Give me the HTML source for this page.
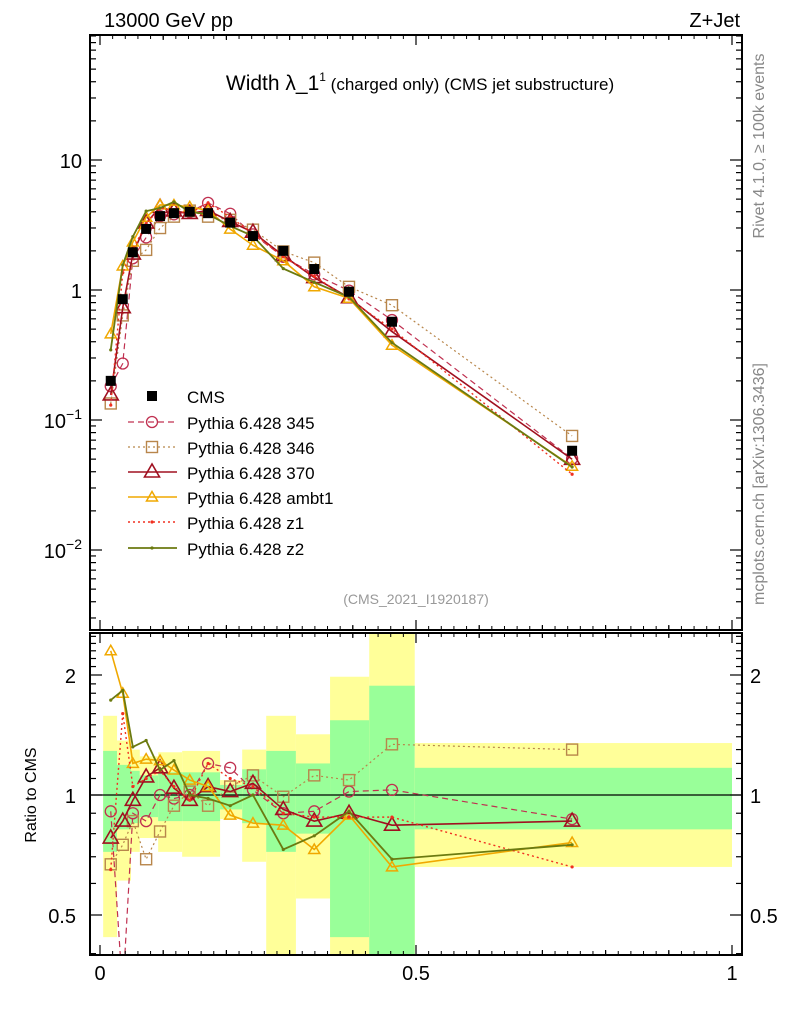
<!DOCTYPE html>
<html><head><meta charset="utf-8"><style>
body{margin:0;background:#fff}
svg{display:block;font-family:"Liberation Sans",sans-serif}
</style></head><body>
<svg id="c" width="786" height="1024" xmlns="http://www.w3.org/2000/svg"></svg>
<script>
// ---- data ----
const xCenters=[0.017,0.036,0.052,0.073,0.095,0.117,0.142,0.171,0.206,0.242,0.29,0.339,0.394,0.462,0.747];
const cmsValues=[0.2,0.85,1.95,2.95,3.7,3.9,4.0,3.9,3.3,2.6,2.0,1.45,0.97,0.57,0.058];
const ratio345=[0.91,0.32,0.9,0.86,1.0,0.98,1.0,1.2,1.17,1.03,0.9,0.91,1.02,1.03,0.87];
const ratio346=[0.67,0.75,0.86,0.69,0.81,0.94,1.02,0.94,1.05,1.12,0.99,1.12,1.09,1.34,1.3];
const ratio370=[0.78,0.86,0.97,1.11,1.17,1.04,0.97,1.05,1.02,1.07,0.92,0.86,0.9,0.84,0.86];
const ratioAmbt1=[2.3,1.8,1.2,1.23,1.22,1.155,1.09,1.05,0.89,0.85,0.84,0.73,0.89,0.66,0.76];
const ratioZ1=[0.65,1.6,1.05,1.1,1.15,1.05,0.97,1.2,1.1,1.05,0.9,0.88,0.88,0.88,0.66];
const ratioZ2=[1.73,1.83,1.32,1.37,1.155,1.22,1.0,0.98,0.94,1.0,0.73,0.79,0.91,0.69,0.75];
const bandEdges=[0.005,0.027,0.049,0.063,0.092,0.13,0.19,0.225,0.263,0.31,0.364,0.426,0.498,1.0];
const yellowHi=[1.58,1.37,1.3,1.25,1.28,1.29,1.09,1.3,1.58,1.42,1.98,3.0,1.35];
const yellowLo=[0.44,0.61,0.72,0.78,0.72,0.70,0.87,0.68,0.39,0.55,0.3,0.3,0.66];
const greenHi=[1.29,1.19,1.15,1.12,1.14,1.14,1.06,1.16,1.29,1.2,1.54,1.88,1.17];
const greenLo=[0.72,0.82,0.85,0.88,0.86,0.86,0.92,0.85,0.72,0.8,0.44,0.3,0.82];
const legendLabels=["CMS","Pythia 6.428 345","Pythia 6.428 346","Pythia 6.428 370","Pythia 6.428 ambt1","Pythia 6.428 z1","Pythia 6.428 z2"];

const svg=document.getElementById('c');
const NS="http://www.w3.org/2000/svg";
function el(tag,attrs,parent){const e=document.createElementNS(NS,tag);for(const k in attrs)e.setAttribute(k,attrs[k]);(parent||svg).appendChild(e);return e;}
const L=90,R=742,T1=35,B1=630,T2=633,B2=955;
const X=v=>100+v*632;
const Y1=v=>290-Math.log10(v)*130;
const Y2=v=>795-Math.log2(v)*120;

const defs=el('defs',{});
const cp1=el('clipPath',{id:'cp1'},defs);el('rect',{x:L,y:T1,width:R-L,height:B1-T1},cp1);
const cp2=el('clipPath',{id:'cp2'},defs);el('rect',{x:L,y:T2,width:R-L,height:B2-T2},cp2);

const gB=el('g',{'clip-path':'url(#cp2)'});


for(let i=0;i<yellowHi.length;i++){
  const x0=X(bandEdges[i]),x1=X(bandEdges[i+1]);
  const ry=el('rect',{x:x0,y:Y2(yellowHi[i]),width:x1-x0,height:Y2(yellowLo[i])-Y2(yellowHi[i]),fill:'#ffff99'},gB);
  
  
  const rg=el('rect',{x:x0,y:Y2(greenHi[i]),width:x1-x0,height:Y2(greenLo[i])-Y2(greenHi[i]),fill:'#99ff99'},gB);
  
  
}
el('line',{x1:L,x2:R,y1:Y2(1),y2:Y2(1),stroke:'#000','stroke-width':1.2});

const series=[
 {name:'345',r:ratio345,color:'#c03050',dash:'6,4',mk:'circle',w:1.2},
 {name:'346',r:ratio346,color:'#b8864b',dash:'2,3',mk:'square',w:1.2},
 {name:'370',r:ratio370,color:'#a01020',dash:'',mk:'tri',w:1.6},
 {name:'ambt1',r:ratioAmbt1,color:'#f0a800',dash:'',mk:'tri-s',w:1.6},
 {name:'z1',r:ratioZ1,color:'#f03020',dash:'2,3',mk:'dot',w:1.4},
 {name:'z2',r:ratioZ2,color:'#6b7a10',dash:'',mk:'dot',w:1.8}
];
function marker(g,kind,x,y,c){
  if(kind==='circle')el('circle',{cx:x,cy:y,r:5.5,fill:'none',stroke:c,'stroke-width':1.3},g);
  else if(kind==='square')el('rect',{x:x-5.5,y:y-5.5,width:11,height:11,fill:'none',stroke:c,'stroke-width':1.4},g);
  else if(kind==='tri')el('polygon',{points:`${x},${y-8} ${x-7.5},${y+5} ${x+7.5},${y+5}`,fill:'none',stroke:c,'stroke-width':1.6},g);
  else if(kind==='tri-s')el('polygon',{points:`${x},${y-5.5} ${x-5.5},${y+4} ${x+5.5},${y+4}`,fill:'none',stroke:c,'stroke-width':1.5},g);
  else el('circle',{cx:x,cy:y,r:1.6,fill:c},g);
}
function drawSeries(s,panel){
  const g=el('g',{'clip-path':panel===1?'url(#cp1)':'url(#cp2)'});
  
  
  const pts=xCenters.map((x,i)=>[X(x),panel===1?Y1(cmsValues[i]*s.r[i]):Y2(s.r[i])]);
  el('polyline',{points:pts.map(p=>p.join(',')).join(' '),fill:'none',stroke:s.color,'stroke-width':s.w,'stroke-dasharray':s.dash},g);
  pts.forEach(p=>marker(g,s.mk,p[0],p[1],s.color));
}
series.forEach(s=>drawSeries(s,1));
series.forEach(s=>drawSeries(s,2));
const gc=el('g',{'clip-path':'url(#cp1)'});


xCenters.forEach((x,i)=>{el('rect',{x:X(x)-5,y:Y1(cmsValues[i])-5,width:10,height:10,fill:'#000'},gc);});

el('rect',{x:L,y:T1,width:R-L,height:B1-T1,fill:'none',stroke:'#000','stroke-width':2});
el('rect',{x:L,y:T2,width:R-L,height:B2-T2,fill:'none',stroke:'#000','stroke-width':2});
for(let v=0;v<=1.0001;v+=0.1){const x=X(v),big=Math.abs(v*2-Math.round(v*2))<1e-6;const h=big?10:5;
 [T1,T2].forEach(t=>el('line',{x1:x,x2:x,y1:t,y2:t+h,stroke:'#000','stroke-width':1.2}));
 [B1,B2].forEach(b=>el('line',{x1:x,x2:x,y1:b,y2:b-h,stroke:'#000','stroke-width':1.2}));}
for(let v=0.02;v<1;v+=0.02){const x=X(v);[T1,T2].forEach(t=>el('line',{x1:x,x2:x,y1:t,y2:t+4,stroke:'#000'}));[B1,B2].forEach(b=>el('line',{x1:x,x2:x,y1:b,y2:b-4,stroke:'#000'}));}
for(let d=-3;d<=1;d++){for(let m=1;m<10;m++){const v=m*Math.pow(10,d);const y=Y1(v);if(y<T1||y>B1)continue;const h=m===1?12:6;
 el('line',{x1:L,x2:L+h,y1:y,y2:y,stroke:'#000','stroke-width':1.2});el('line',{x1:R,x2:R-h,y1:y,y2:y,stroke:'#000','stroke-width':1.2});}}
for(let v=0.4;v<=2.6;v+=0.1){const y=Y2(v);if(y<T2||y>B2)continue;const major=[0.5,1,2].some(a=>Math.abs(a-v)<1e-6);const h=major?12:6;
 el('line',{x1:L,x2:L+h,y1:y,y2:y,stroke:'#000','stroke-width':1.2});el('line',{x1:R,x2:R-h,y1:y,y2:y,stroke:'#000','stroke-width':1.2});}
function txt(s,x,y,a,opt){const t=el('text',Object.assign({x:x,y:y,'font-size':20,'text-anchor':a||'start'},opt||{}));t.textContent=s;return t;}
let t;
t=txt('10',82,168,'end');
t=txt('1',82,298,'end');
t=el('text',{x:82,y:428,'font-size':20,'text-anchor':'end'});t.innerHTML='10<tspan dy="-9" font-size="14">−1</tspan>';
t=el('text',{x:82,y:558,'font-size':20,'text-anchor':'end'});t.innerHTML='10<tspan dy="-9" font-size="14">−2</tspan>';
[['2',683],['1',803],['0.5',923]].forEach(([s,y])=>{let a=txt(s,76,y,'end');let b=txt(s,750,y,'start');});
[['0',0],['0.5',0.5],['1',1]].forEach(([s,v])=>{let a=txt(s,X(v),980,'middle');});
t=txt('Ratio to CMS',0,0,'middle',{'font-size':16,transform:'translate(36,795) rotate(-90)'});
t=txt('13000 GeV pp',104,27,'start');
t=txt('Z+Jet',740,27,'end');
t=el('text',{x:420,y:90,'font-size':21,'text-anchor':'middle'});t.innerHTML='Width λ_1<tspan dy="-9" font-size="12">1</tspan><tspan dy="9" font-size="17"> (charged only) (CMS jet substructure)</tspan>';
t=txt('(CMS_2021_I1920187)',416,604,'middle',{'font-size':14,fill:'#999'});
t=txt('Rivet 4.1.0, ≥ 100k events',0,0,'middle',{'font-size':16,fill:'#888',transform:'translate(764,146) rotate(-90)'});
t=txt('mcplots.cern.ch [arXiv:1306.3436]',0,0,'middle',{'font-size':16,fill:'#888',transform:'translate(764,484) rotate(-90)'});
const legY=[396,422,447,472,497,522,548];
legendLabels.forEach((lab,i)=>{
  const g=el('g',{});
  
  
  const y=legY[i];
  if(i===0){el('rect',{x:147,y:y-5,width:10,height:10,fill:'#000'},g);}
  else{const s=series[i-1];el('line',{x1:128,x2:177,y1:y,y2:y,stroke:s.color,'stroke-width':s.w,'stroke-dasharray':s.dash},g);marker(g,s.mk,152,y,s.color);}
  const tt=el('text',{x:187,y:y+7,'font-size':17},g);tt.textContent=lab;
});
</script>
</body></html>
